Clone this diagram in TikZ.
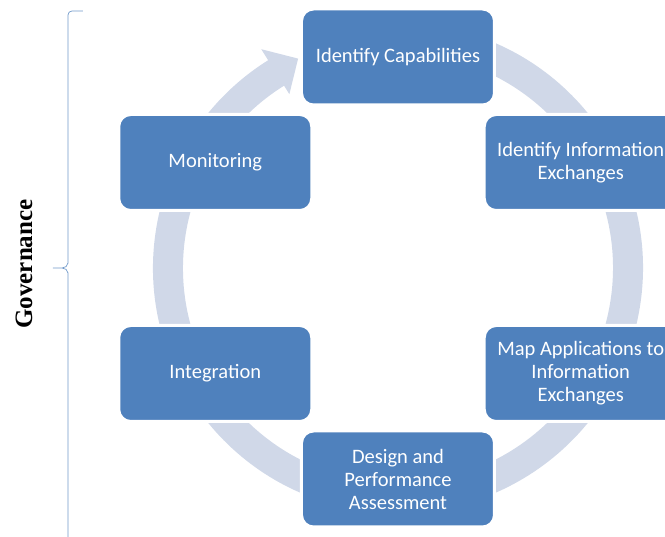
\documentclass[tikz,border=0pt]{standalone}
\usepackage{fontspec}
\setmainfont{Carlito}
\newfontfamily\govfont{Liberation Serif}
\usepackage{tikz}
\definecolor{boxblue}{RGB}{79,129,189}
\definecolor{ringgray}{RGB}{208,216,232}

\begin{document}
\begin{tikzpicture}[x=1pt,y=1pt,
   stage/.style={rectangle, rounded corners=12pt, fill=boxblue, draw=white,
      line width=3pt, minimum width=193pt, minimum height=96pt, text=white,
      align=center, font=\fontsize{20.5}{23}\selectfont}]
   \useasboundingbox (-398,-269) rectangle (267,268);
   \clip (-398,-269) rectangle (267,268);
   % cycle arrow behind the boxes
   \fill[ringgray] (80:245) arc[start angle=80, end angle=-238, radius=245]
      -- (122:258) -- (115.5:232) -- (122:205) -- (122:215)
      arc[start angle=-238, end angle=80, radius=215] -- cycle;
   % stages
   \node[stage] (cap)    at (90:211)  {Identify Capabilities};
   \node[stage] (infx)   at (30:211)  {Identify Information\\Exchanges};
   \node[stage] (mapx)   at (-30:211) {Map Applications to\\Information\\Exchanges};
   \node[stage] (design) at (-90:211) {Design and\\Performance\\Assessment};
   \node[stage] (integ)  at (210:211) {Integration};
   \node[stage] (monit)  at (150:211) {Monitoring};
   % governance brace
   \draw[boxblue!80, line width=0.7pt] (-315,257) -- (-326,257) to[out=180,in=90] (-330,253)
      -- (-330,5) to[out=-90,in=0] (-336,0) -- (-345,0) -- (-336,0)
      to[out=0,in=90] (-330,-5) -- (-330,-275);
   \node[rotate=90, font=\govfont\bfseries\fontsize{25}{25}\selectfont] (gov) at (-374,4) {Governance};
\end{tikzpicture}
\end{document}
